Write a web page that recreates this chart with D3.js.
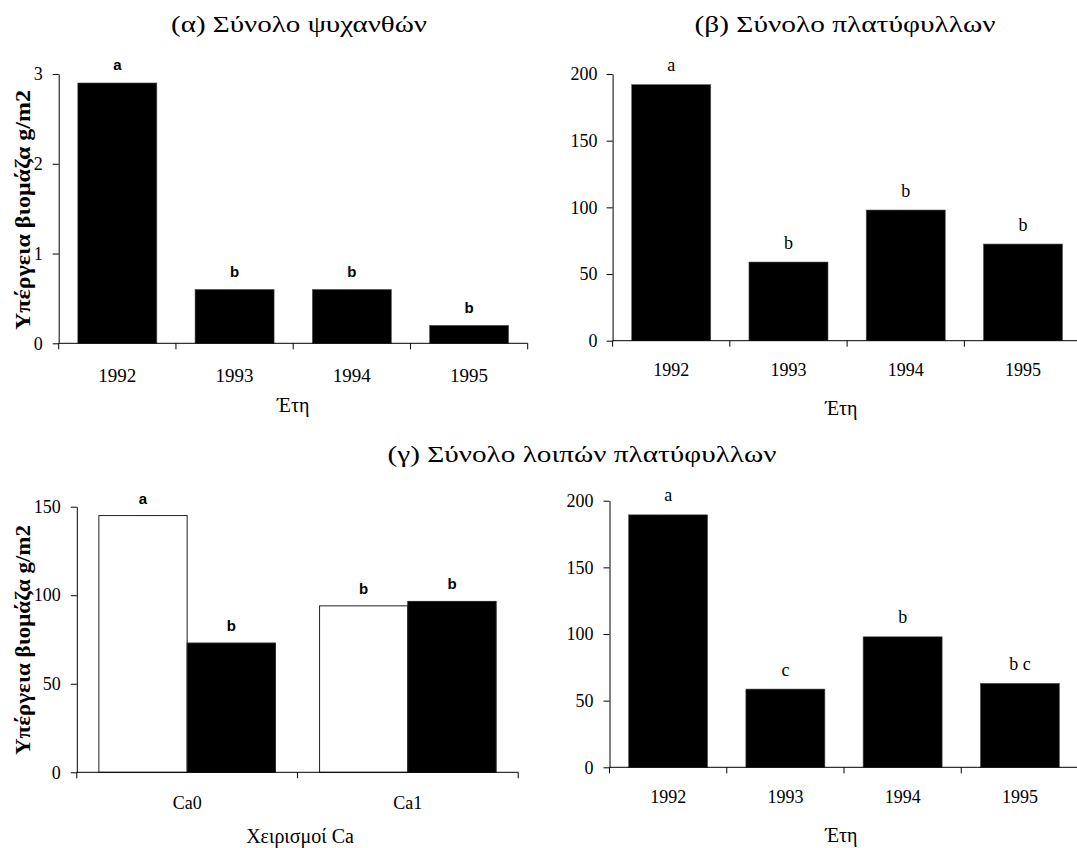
<!DOCTYPE html>
<html><head><meta charset="utf-8">
<script src="https://cdn.jsdelivr.net/npm/d3@7"></script>
<style>
body{margin:0;background:#fff;}
svg{display:block;}
text{fill:#000;}
</style></head>
<body>
<svg id="chart" width="1077" height="848"></svg>
<script>
// ---- data ----
const years = ["1992", "1993", "1994", "1995"];
const legumeValues = [2.9, 0.6, 0.6, 0.2];
const legumeLetters = ["a", "b", "b", "b"];
const broadleafValues = [192, 59, 98, 72.5];
const broadleafLetters = ["a", "b", "b", "b"];
const caTreatments = ["Ca0", "Ca1"];
const caSeriesWhite = [145, 94];
const caSeriesBlack = [73, 96.5];
const caLettersWhite = ["a", "b"];
const caLettersBlack = ["b", "b"];
const otherBroadleafValues = [189.4, 58.7, 97.9, 63];
const otherBroadleafLetters = ["a", "c", "b", "b c"];
const ticksLegume = [0, 1, 2, 3];
const ticks200 = [0, 50, 100, 150, 200];
const ticks150 = [0, 50, 100, 150];
const titleA = "(α) Σύνολο ψυχανθών";
const titleB = "(β) Σύνολο πλατύφυλλων";
const titleC = "(γ) Σύνολο λοιπών πλατύφυλλων";
const yLabel = "Υπέργεια βιομάζα g/m2";
const xLabelYears = "Έτη";
const xLabelCa = "Χειρισμοί Ca";

const svg = d3.select("#chart");
const SERIF = "'Liberation Serif','Times New Roman',serif";
const SANS = "'Liberation Sans',Arial,sans-serif";

function drawAxes(g, x, y, ticks, opt) {
  const [x0, x1] = x.range();
  const [yb, yt] = y.range();
  const ya = g.append("g").attr("transform", `translate(${x0},0)`)
    .call(d3.axisLeft(y).tickValues(ticks).tickSize(6).tickSizeOuter(0).tickPadding(opt.tickPad).tickFormat(d3.format("d")));
  ya.select(".domain").attr("stroke", "#000");
  ya.selectAll(".tick line").attr("stroke", "#000");
  ya.selectAll("text").attr("font-family", SERIF).attr("font-size", opt.yTickFont).attr("fill", "#000");
  const xa = g.append("g").attr("transform", `translate(0,${yb})`)
    .call(d3.axisBottom(x).tickSize(0).tickPadding(opt.catPad));
  xa.select(".domain").attr("stroke", "#000").attr("d", `M${x0},0H${x1}`);
  xa.selectAll("text").attr("font-family", SERIF).attr("font-size", opt.catFont).attr("fill", "#000");
  const bounds = d3.range(x.domain().length + 1).map(i => x0 + i * x.step());
  g.append("g").selectAll("line").data(bounds).join("line")
    .attr("x1", d => d).attr("x2", d => d).attr("y1", yb).attr("y2", yb + 6)
    .attr("stroke", "#000");
}

function singlePanel(opt) {
  const g = svg.append("g");
  const x = d3.scaleBand().domain(opt.cats).range([opt.x0, opt.x1]).paddingInner(0.326).paddingOuter(0.163);
  const y = d3.scaleLinear().domain([0, opt.max]).range([opt.yb, opt.yt]);
  g.append("g").selectAll("rect").data(opt.values).join("rect")
    .attr("x", (d, i) => x(opt.cats[i])).attr("width", x.bandwidth())
    .attr("y", d => y(d)).attr("height", d => y(0) - y(d))
    .attr("fill", "#000").attr("stroke", "#555").attr("stroke-width", 0.6);
  g.append("g").selectAll("text").data(opt.values).join("text")
    .attr("x", (d, i) => x(opt.cats[i]) + x.bandwidth() / 2)
    .attr("y", d => y(d) - opt.letterOff)
    .attr("text-anchor", "middle")
    .attr("font-family", opt.letterFamily).attr("font-weight", opt.letterWeight)
    .attr("font-size", opt.letterSize)
    .text((d, i) => opt.letters[i]);
  drawAxes(g, x, y, opt.ticks, opt);
  return {g, x, y};
}

function text(x, y, s, size, opts = {}) {
  const t = svg.append("text").attr("x", x).attr("y", y).attr("text-anchor", "middle")
    .attr("font-family", opts.family || SERIF).attr("font-size", size)
    .attr("font-weight", opts.weight || "normal").text(s);
  if (opts.len) t.attr("textLength", opts.len).attr("lengthAdjust", "spacingAndGlyphs");
  if (opts.rotate) t.attr("transform", `rotate(-90,${x},${y})`);
  return t;
}

// Panel α
singlePanel({
  x0: 58.7, x1: 527.7, yb: 343.3, yt: 74, max: 3, cats: years, values: legumeValues,
  letters: legumeLetters, letterFamily: SANS, letterWeight: "bold", letterSize: 15, letterOff: 12.5,
  ticks: ticksLegume, tickPad: 10, yTickFont: 18, catFont: 19, catPad: 25
});
text(299, 32, titleA, 24, {len: 256});
text(293.2, 412, xLabelYears, 20);
text(30, 210, yLabel, 21, {weight: "bold", rotate: true, len: 240});

// Panel β
singlePanel({
  x0: 612.6, x1: 1081.6, yb: 340.7, yt: 74, max: 200, cats: years, values: broadleafValues,
  letters: broadleafLetters, letterFamily: SERIF, letterWeight: "normal", letterSize: 18, letterOff: 13.5,
  ticks: ticks200, tickPad: 9, yTickFont: 18, catFont: 18, catPad: 23
});
text(845, 32, titleB, 24, {len: 301});

text(841.4, 415, xLabelYears, 20);

// Panel γ title
text(582, 462, titleC, 24, {len: 389});

// Panel γ left (grouped)
{
  const g = svg.append("g");
  const x = d3.scaleBand().domain(caTreatments).range([76.8, 518.2]).paddingInner(0.2).paddingOuter(0.1);
  const series = [
    {values: caSeriesWhite, letters: caLettersWhite, fill: "#fff"},
    {values: caSeriesBlack, letters: caLettersBlack, fill: "#000"}
  ];
  const xs = d3.scaleBand().domain(d3.range(series.length)).range([0, x.bandwidth()]);
  const y = d3.scaleLinear().domain([0, 150]).range([772.3, 506.7]);
  series.forEach((s, si) => {
    g.append("g").selectAll("rect").data(s.values).join("rect")
      .attr("x", (d, i) => x(caTreatments[i]) + xs(si)).attr("width", xs.bandwidth())
      .attr("y", d => y(d)).attr("height", d => y(0) - y(d))
      .attr("fill", s.fill).attr("stroke", "#222").attr("stroke-width", 1);
    g.append("g").selectAll("text").data(s.values).join("text")
      .attr("x", (d, i) => x(caTreatments[i]) + xs(si) + xs.bandwidth() / 2)
      .attr("y", d => y(d) - 12)
      .attr("text-anchor", "middle").attr("font-family", SANS).attr("font-weight", "bold")
      .attr("font-size", 15).text((d, i) => s.letters[i]);
  });
  drawAxes(g, x, y, ticks150, {tickPad: 10, yTickFont: 18, catFont: 18, catPad: 24});
  text(300, 843, xLabelCa, 20);
  text(30, 640, yLabel, 21, {weight: "bold", rotate: true, len: 230});
}

// Panel γ right
singlePanel({
  x0: 609.5, x1: 1078.5, yb: 767.3, yt: 500.7, max: 200, cats: years, values: otherBroadleafValues,
  letters: otherBroadleafLetters, letterFamily: SERIF, letterWeight: "normal", letterSize: 18, letterOff: 13.5,
  ticks: ticks200, tickPad: 10, yTickFont: 18, catFont: 18, catPad: 23
});
text(841.4, 842, xLabelYears, 20);
</script>
</body></html>
